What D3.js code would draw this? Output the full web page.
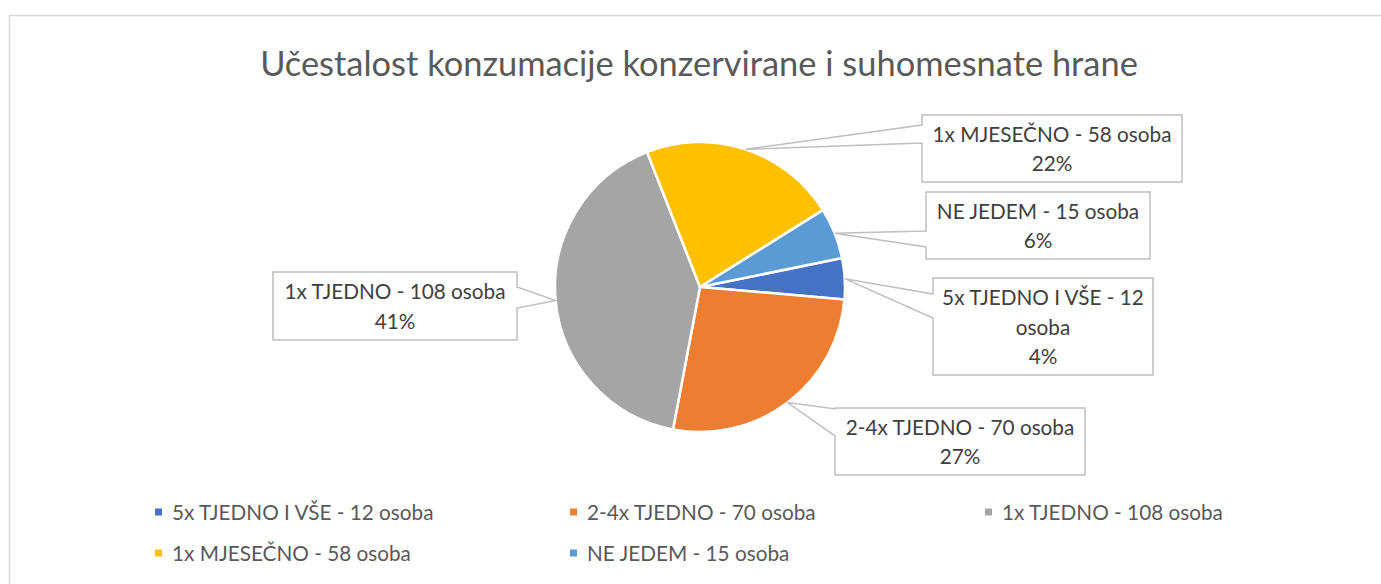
<!DOCTYPE html>
<html>
<head>
<meta charset="utf-8">
<script src="https://cdn.jsdelivr.net/npm/d3@7"></script>
<style>
  body { margin: 0; background: #fff; }
  svg { display: block; }
</style>
</head>
<body>
<div id="main"></div>
<script>
// data
const categories = ["5x TJEDNO I VŠE - 12 osoba", "2-4x TJEDNO - 70 osoba", "1x TJEDNO - 108 osoba", "1x MJESEČNO - 58 osoba", "NE JEDEM - 15 osoba"]
const values = [12, 70, 108, 58, 15]
const pctLabels = ["4%", "27%", "41%", "22%", "6%"]
const colors = ["#4472C4", "#ED7D31", "#A5A5A5", "#FFC000", "#5B9BD5"]
const title = "Učestalost konzumacije konzervirane i suhomesnate hrane"

const W = 1381, H = 584
const cx = 700, cy = 287, radius = 145
const startDeg = 78.5
const fontFam = "Lato, 'Open Sans', sans-serif"

// callout boxes (layout): box, side of the wedge, wedge base on that side, text lines
const callouts = [
    { x0: 933, y0: 278, x1: 1153, y1: 375, side: "left", b1: 294, b2: 318, lines: ["5x TJEDNO I VŠE - 12", "osoba"] },
    { x0: 835, y0: 408, x1: 1085, y1: 475, side: "left", b1: 409, b2: 436, lines: null },
    { x0: 273, y0: 272, x1: 517, y1: 340, side: "right", b1: 287, b2: 308, lines: null },
    { x0: 922, y0: 115, x1: 1182, y1: 182, side: "left", b1: 125, b2: 143, lines: null },
    { x0: 926, y0: 192, x1: 1150, y1: 259, side: "left", b1: 231, b2: 247, lines: null }
]

const svg = d3.select("#main")
    .append("svg")
    .attr("width", W)
    .attr("height", H)

svg.append("rect").attr("width", W).attr("height", H).attr("fill", "#fff")

// chart area border (only left/top visible in the crop)
svg.append("rect")
    .attr("x", 9.5).attr("y", 15.5)
    .attr("width", W + 20).attr("height", H + 20)
    .attr("fill", "none")
    .attr("stroke", "#d9d9d9")
    .attr("stroke-width", 1.5)

// measure helper to size the substitute font like the original
function fitSize(str, target, base) {
    let t = svg.append("text").style("font-family", fontFam).style("font-size", base + "px").text(str)
    let w = t.node().getComputedTextLength()
    t.remove()
    return base * target / w
}

const titleSize = fitSize(title, 878, 30)
const labelSize = fitSize("1x TJEDNO - 108 osoba", 221, 20)

svg.append("text")
    .attr("x", 699)
    .attr("y", 62)
    .attr("text-anchor", "middle")
    .attr("dominant-baseline", "central")
    .style("font-family", fontFam)
    .style("font-size", titleSize + "px")
    .style("fill", "#595959")
    .text(title)

// pie
const pie = d3.pie()
    .sort(null)
    .value(d => d)
    .startAngle(startDeg * Math.PI / 180)
    .endAngle(startDeg * Math.PI / 180 + 2 * Math.PI)

const arcs = pie(values)
const arc = d3.arc().innerRadius(0).outerRadius(radius)

const pieGroup = svg.append("g")
    .attr("transform", `translate(${cx},${cy})`)

pieGroup.selectAll(".slice")
    .data(arcs)
    .join("path")
    .attr("class", "slice")
    .attr("d", arc)
    .attr("fill", (d, i) => colors[i])
    .attr("stroke", "#fff")
    .attr("stroke-width", 2.5)
    .attr("stroke-linejoin", "round")

// callout labels
const labelGroup = svg.append("g")

arcs.forEach((a, i) => {
    let c = callouts[i]
    let mid = (a.startAngle + a.endAngle) / 2
    let tx = cx + Math.sin(mid) * radius
    let ty = cy - Math.cos(mid) * radius

    let p
    if (c.side === "left") {
        p = `M${c.x0},${c.y0}L${c.x1},${c.y0}L${c.x1},${c.y1}L${c.x0},${c.y1}L${c.x0},${c.b2}L${tx},${ty}L${c.x0},${c.b1}Z`
    } else {
        p = `M${c.x0},${c.y0}L${c.x1},${c.y0}L${c.x1},${c.b1}L${tx},${ty}L${c.x1},${c.b2}L${c.x1},${c.y1}L${c.x0},${c.y1}Z`
    }
    labelGroup.append("path")
        .attr("d", p)
        .attr("fill", "#fff")
        .attr("stroke", "#bfbfbf")
        .attr("stroke-width", 1.5)

    let lines = (c.lines || [categories[i]]).concat([pctLabels[i]])
    let lh = 29.5
    let midY = (c.y0 + c.y1) / 2
    let firstY = midY - (lines.length - 1) * lh / 2
    lines.forEach((ln, j) => {
        labelGroup.append("text")
            .attr("x", (c.x0 + c.x1) / 2)
            .attr("y", firstY + j * lh)
            .attr("text-anchor", "middle")
            .attr("dominant-baseline", "central")
            .style("font-family", fontFam)
            .style("font-size", labelSize + "px")
            .style("fill", "#404040")
            .text(ln)
    })
})

// legend
const legendX = [155, 570, 985]
const legendY = [512, 553]

const legend = svg.append("g")
    .selectAll(".leg")
    .data(categories)
    .join("g")
    .attr("class", "leg")
    .attr("transform", (d, i) => `translate(${legendX[i % 3]},${legendY[Math.floor(i / 3)]})`)

legend.append("rect")
    .attr("x", 0).attr("y", -3.5)
    .attr("width", 7).attr("height", 7)
    .attr("fill", (d, i) => colors[i])

legend.append("text")
    .attr("x", 17)
    .attr("y", 0)
    .attr("dominant-baseline", "central")
    .style("font-family", fontFam)
    .style("font-size", labelSize + "px")
    .style("fill", "#595959")
    .text(d => d)
</script>
</body>
</html>
